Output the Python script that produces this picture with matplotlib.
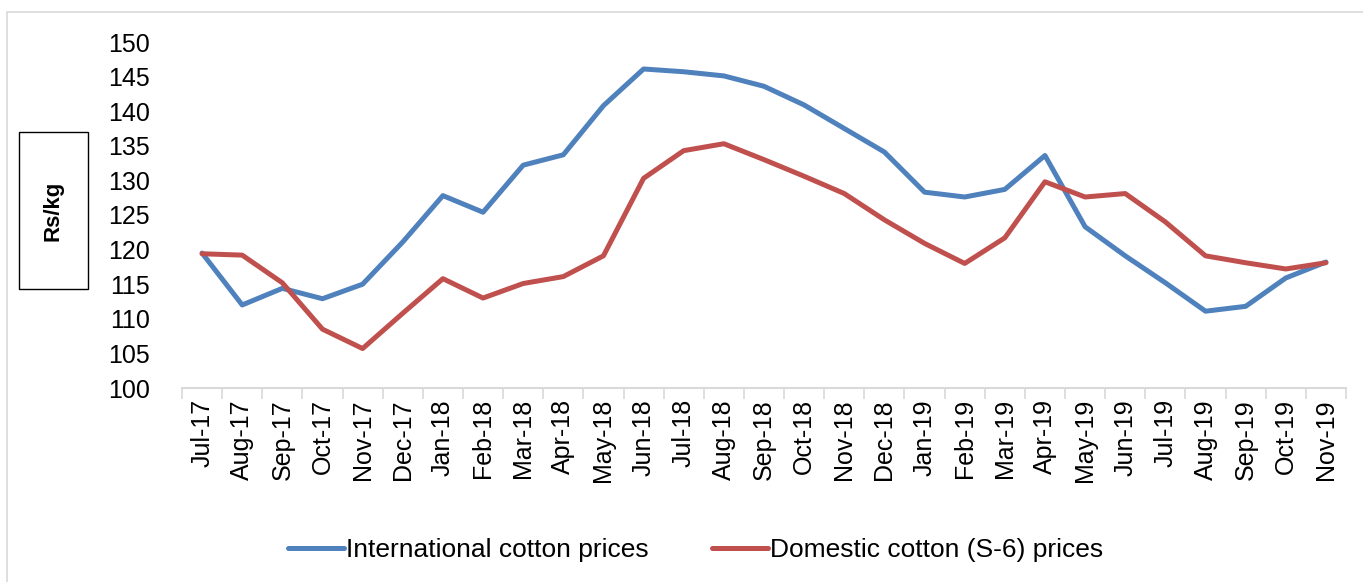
import numpy as np
import matplotlib.pyplot as plt
from matplotlib.patches import Rectangle

plt.rcParams['font.family'] = ['Liberation Sans', 'DejaVu Sans']

months = ['Jul-17', 'Aug-17', 'Sep-17', 'Oct-17', 'Nov-17', 'Dec-17',
          'Jan-18', 'Feb-18', 'Mar-18', 'Apr-18', 'May-18', 'Jun-18',
          'Jul-18', 'Aug-18', 'Sep-18', 'Oct-18', 'Nov-18', 'Dec-18',
          'Jan-19', 'Feb-19', 'Mar-19', 'Apr-19', 'May-19', 'Jun-19',
          'Jul-19', 'Aug-19', 'Sep-19', 'Oct-19', 'Nov-19']
intl = [119.5, 112.0, 114.4, 112.9, 115.0, 121.1, 127.8, 125.4, 132.2, 133.7,
        140.8, 146.1, 145.7, 145.1, 143.6, 140.9, 137.5, 134.1, 128.3, 127.6,
        128.7, 133.6, 123.3, 119.1, 115.2, 111.1, 111.8, 115.9, 118.2]
domestic = [119.4, 119.2, 115.2, 108.5, 105.7, 110.8, 115.8, 113.0, 115.1, 116.1,
            119.1, 130.3, 134.3, 135.3, 133.0, 130.6, 128.1, 124.3, 120.9, 118.0,
            121.7, 129.8, 127.6, 128.1, 124.0, 119.1, 118.1, 117.2, 118.1]

fig = plt.figure(figsize=(13.63, 5.82), dpi=100)
W, H = 1363, 582
# axes placed in pixel terms: left 182, right 1346, top(150) 42, bottom(100) 388
ax = fig.add_axes([182 / W, 1 - 388 / H, (1346 - 182) / W, (388 - 42) / H])

x = np.arange(len(months))
ax.plot(x, intl, color='#4F81BD', lw=3.6, label='International cotton prices', solid_capstyle='round')
ax.plot(x, domestic, color='#C0504D', lw=3.6, label='Domestic cotton (S-6) prices', solid_capstyle='round')

ax.set_xlim(-0.5, len(months) - 0.5)
ax.set_ylim(100, 150)
ax.set_yticks(range(100, 151, 5))
ax.tick_params(axis='y', length=0, labelsize=18, pad=23)
ax.set_xticks(x)
ax.set_xticklabels(months, rotation=90, fontsize=18)
ax.tick_params(axis='x', length=0, pad=8)
ax.set_xticks(np.arange(-0.5, len(months), 1), minor=True)
ax.tick_params(axis='x', which='minor', length=8, width=1.2, color='#D9D9D9')

for s in ['top', 'right', 'left']:
    ax.spines[s].set_visible(False)
ax.spines['bottom'].set_color('#D9D9D9')
ax.spines['bottom'].set_linewidth(1.5)

# y label box
fig.patches.append(Rectangle((19 / W, 1 - 289 / H), 69 / W, 157 / H, transform=fig.transFigure,
                             fill=False, edgecolor='black', lw=1))
fig.text(53 / W, 1 - 211 / H, 'Rs/kg', rotation=90, ha='center', va='center',
         fontsize=16, fontweight='bold')

# outer chart border
fig.patches.append(Rectangle((7 / W, -0.01), 1.0, 1 - 12 / H + 0.01, transform=fig.transFigure,
                             fill=False, edgecolor='#D9D9D9', lw=1.2))

fig.legend(loc='center', bbox_to_anchor=(696 / W, 1 - 550 / H), ncol=2, frameon=False,
           fontsize=19, handlelength=2.1, handletextpad=0.1, columnspacing=2.4)

fig.savefig('out.png', dpi=100)
